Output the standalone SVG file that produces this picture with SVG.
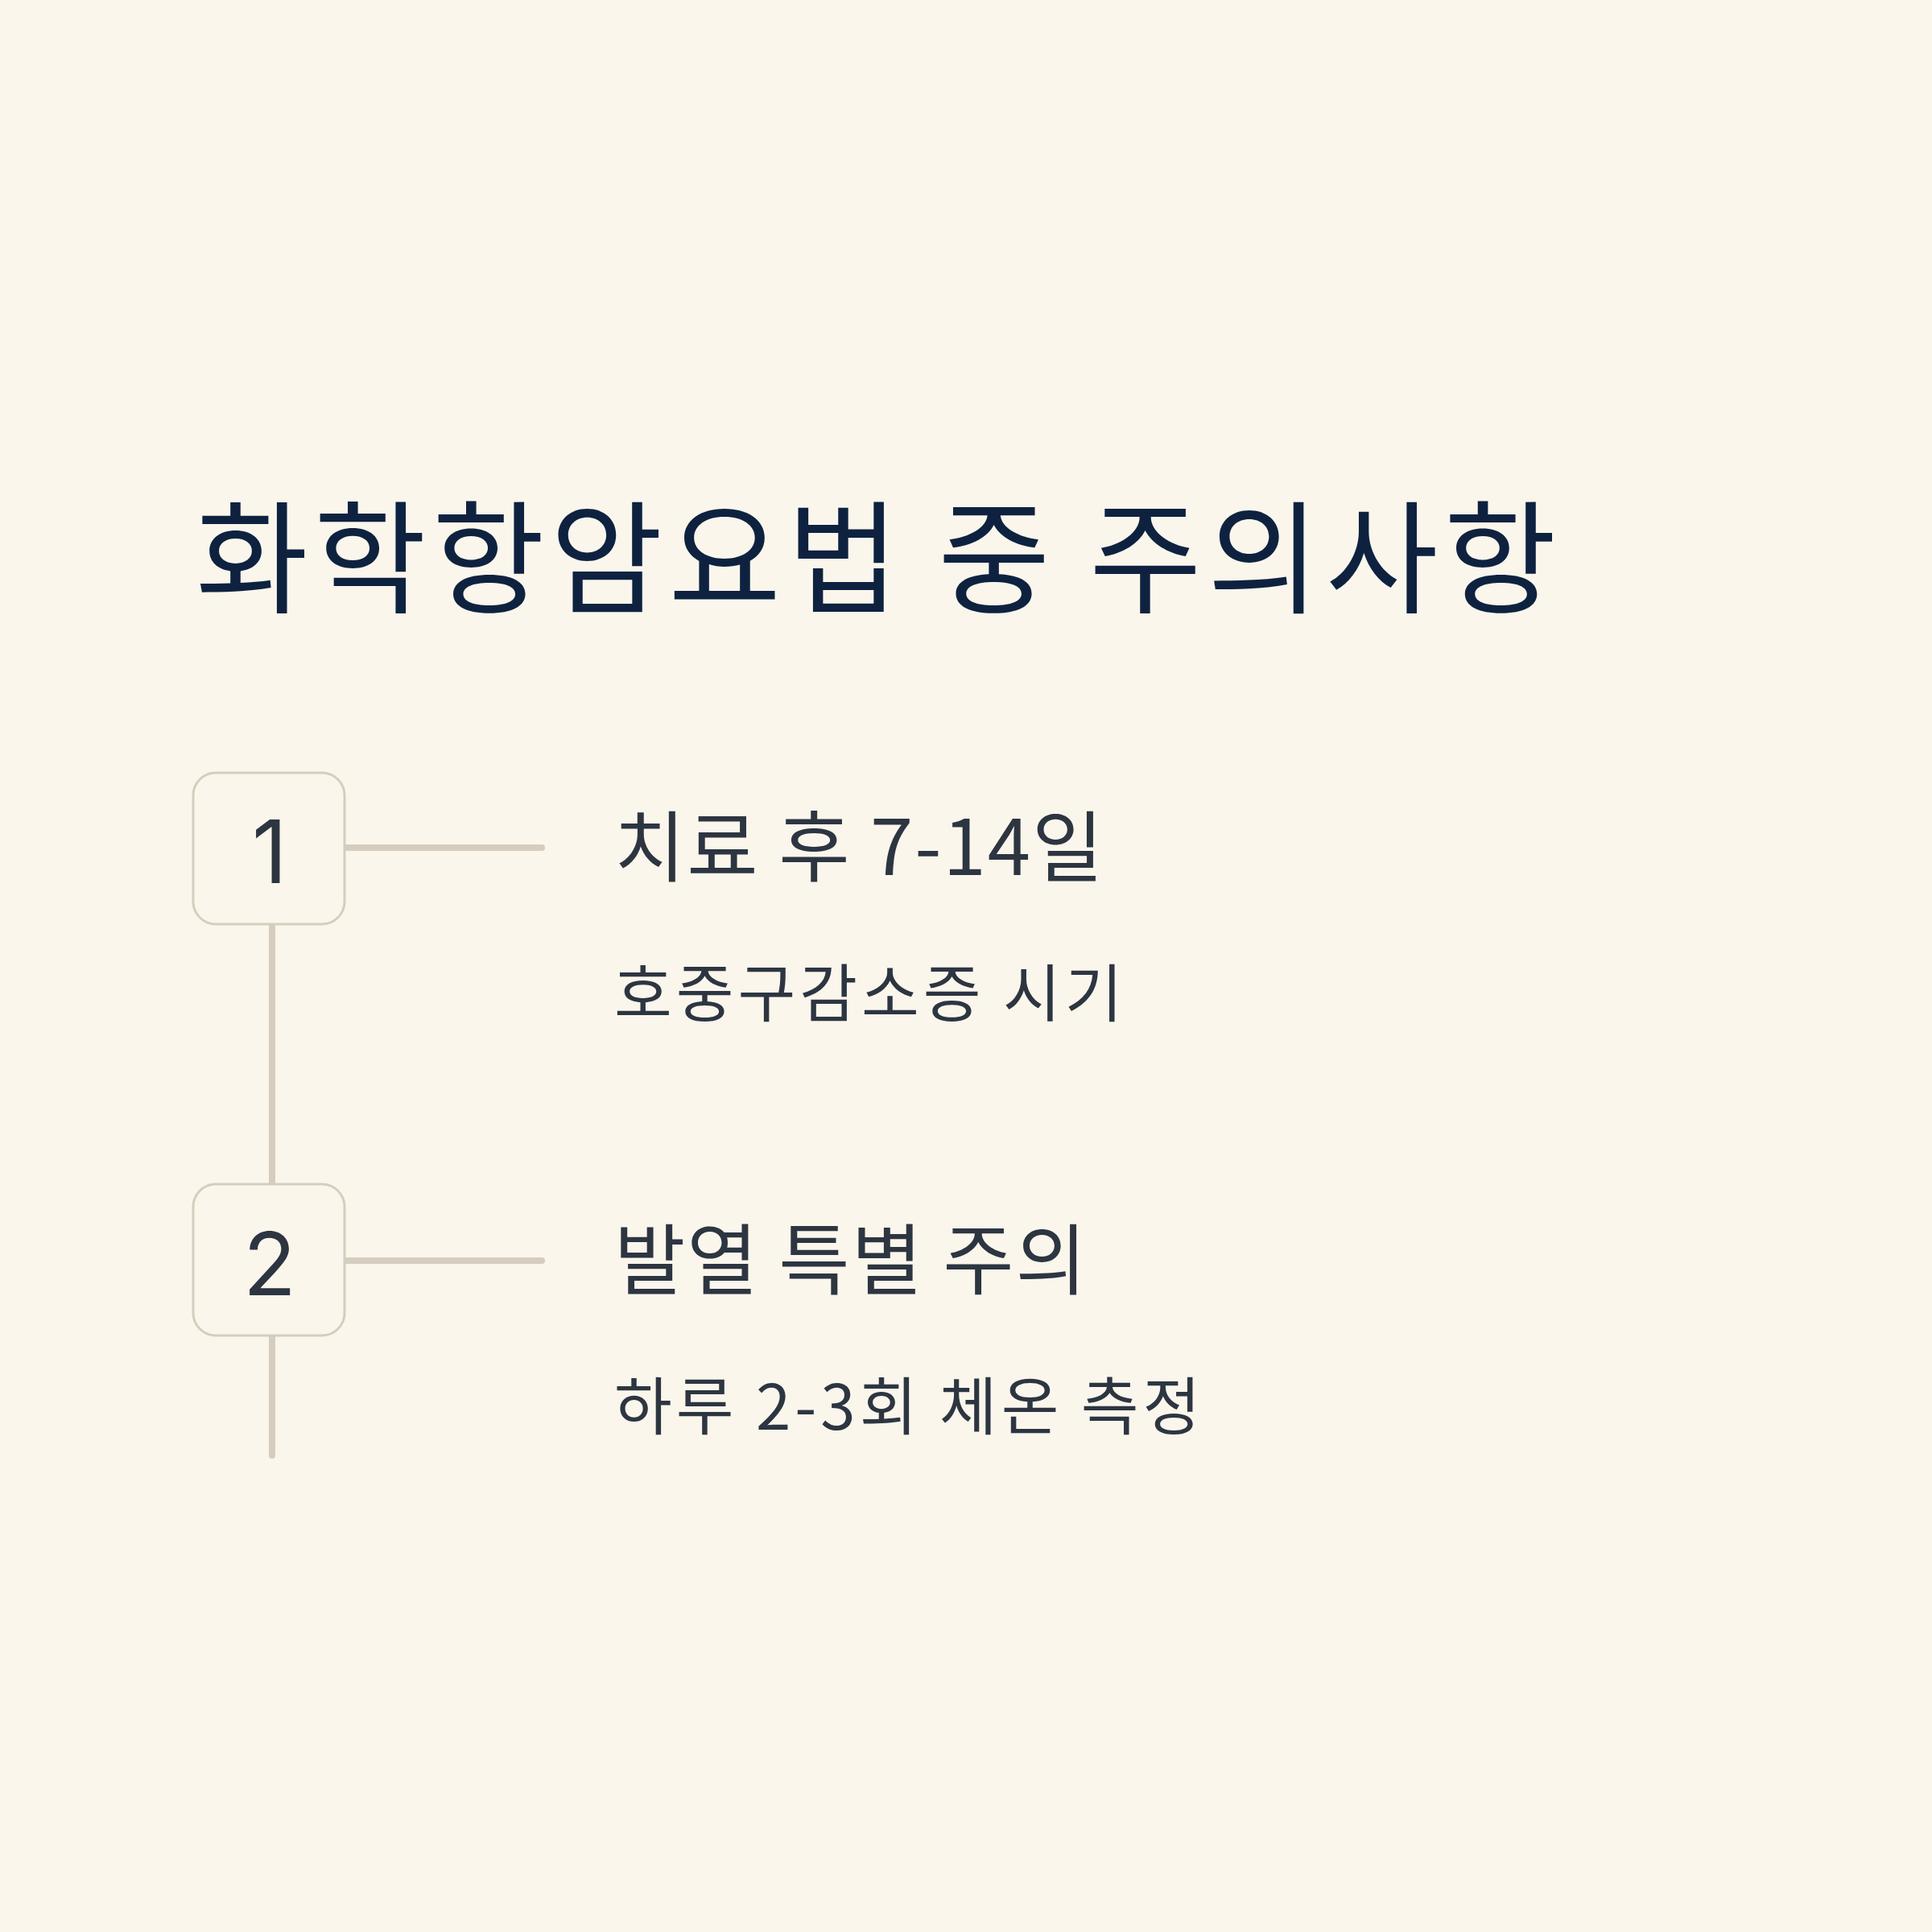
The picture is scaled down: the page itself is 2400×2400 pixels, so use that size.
<svg xmlns="http://www.w3.org/2000/svg" width="2400" height="2400" viewBox="0 0 2400 2400">
<style>
.t{font-family:"Noto Sans CJK KR","Noto Sans",sans-serif}
.title{font-size:152px;fill:#0E2240;font-weight:400;letter-spacing:7px}
.h{font-size:96px;fill:#2D3541;letter-spacing:2px}
.s{font-size:78px;fill:#2D3541;letter-spacing:5px}
.n{font-family:Inter,"Noto Sans",sans-serif;font-size:108px;fill:#2D3541;text-anchor:middle}
.box{fill:#FAF6EC;stroke:#D6CDBE;stroke-width:3}
.ln{stroke:#D6CDBE;stroke-width:8;stroke-linecap:round;fill:none}
</style>
<rect width="2400" height="2400" fill="#FAF6EC"/>
<text class="t title" x="243" y="750">화학항암요법 중 주의사항</text>
<g id="connectors">
<line class="ln" x1="338" y1="1148" x2="338" y2="1471"/>
<line class="ln" x1="338" y1="1659" x2="338" y2="1808"/>
<line class="ln" x1="428" y1="1053" x2="673" y2="1053"/>
<line class="ln" x1="428" y1="1566" x2="673" y2="1566"/>
</g>
<g id="step1">
<rect class="box" x="240" y="960" width="188" height="188" rx="28"/>
<text class="n" x="335" y="1097">1</text>
<text class="t h" x="763" y="1087">치료 후 7-14일</text>
<text class="t s" x="763" y="1263">호중구감소증 시기</text>
</g>
<g id="step2">
<rect class="box" x="240" y="1471" width="188" height="188" rx="28"/>
<text class="n" x="335" y="1609">2</text>
<text class="t h" x="763" y="1600">발열 특별 주의</text>
<text class="t s" x="763" y="1776">하루 2-3회 체온 측정</text>
</g>
</svg>
